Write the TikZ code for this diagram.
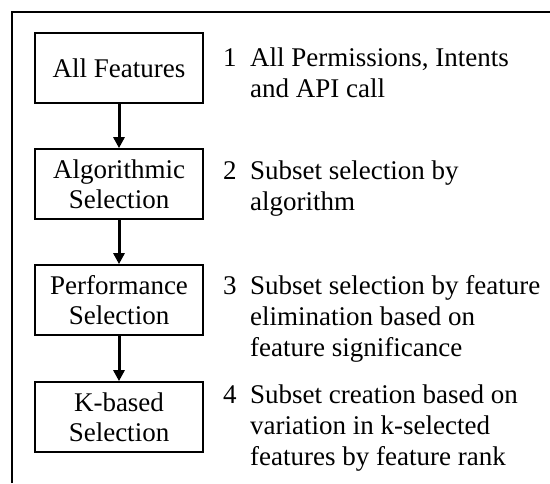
\documentclass[tikz,border=0pt]{standalone}
\usepackage{fontspec}
\setmainfont{Liberation Serif}
\usetikzlibrary{arrows.meta}
% multi-line description anchored at the baseline of its first line
\newcommand{\desclines}[1]{\begin{tabular}[t]{@{}l@{}}#1\end{tabular}}
\begin{document}
\begin{tikzpicture}[x=1pt,y=-1pt,
  stagebox/.style={draw,line width=1.7pt,minimum width=168pt,minimum height=70pt,
    align=center,inner sep=0pt,font=\fontsize{27}{30}\selectfont},
  flow/.style={line width=3pt,-{Triangle[length=11pt,width=11pt]}},
  numlabel/.style={anchor=base west,inner sep=0pt,font=\fontsize{27}{31}\selectfont},
  desc/.style={anchor=base west,inner sep=0pt,font=\fontsize{27}{31}\selectfont}]
  \useasboundingbox (0,0) rectangle (550,483);
  % open frame: top and left rules only
  \draw[line width=2.6pt] (12,483) -- (12,12) -- (550,12);

  % stages of the selection pipeline
  \node[stagebox] (s1) at (119,68)  {All Features};
  \node[stagebox] (s2) at (119,184) {Algorithmic\\Selection};
  \node[stagebox] (s3) at (119,300) {Performance\\Selection};
  \node[stagebox] (s4) at (119,417) {K-based\\Selection};

  \draw[flow] (s1) -- (s2);
  \draw[flow] (s2) -- (s3);
  \draw[flow] (s3) -- (s4);

  % numbered descriptions
  \node[numlabel] (n1) at (223,66)  {1};
  \node[desc]     (d1) at (250,66)  {\desclines{All Permissions, Intents\\and API call}};
  \node[numlabel] (n2) at (223,179) {2};
  \node[desc]     (d2) at (250,179) {\desclines{Subset selection by\\algorithm}};
  \node[numlabel] (n3) at (223,294) {3};
  \node[desc]     (d3) at (250,294) {\desclines{Subset selection by feature\\elimination based on\\feature significance}};
  \node[numlabel] (n4) at (223,403) {4};
  \node[desc]     (d4) at (250,403) {\desclines{Subset creation based on\\variation in k-selected\\features by feature rank}};
\end{tikzpicture}
\end{document}
